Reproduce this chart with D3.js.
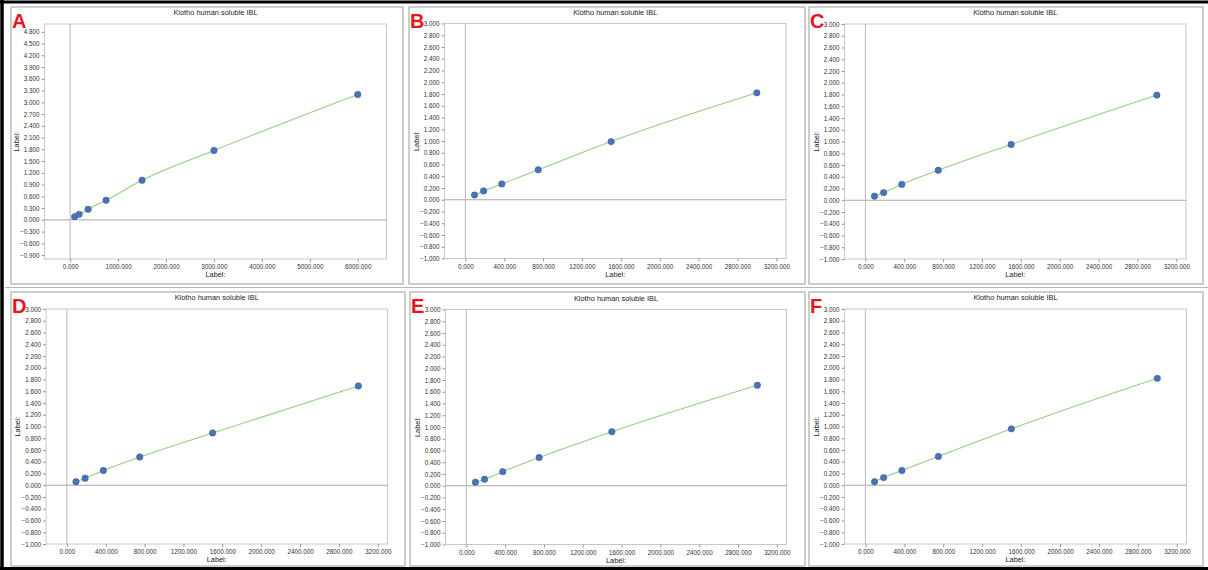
<!DOCTYPE html>
<html>
<head>
<meta charset="utf-8">
<script src="https://cdn.jsdelivr.net/npm/d3@7"></script>
<style>
  html, body { margin: 0; padding: 0; background: #fff; }
  svg { display: block; font-family: "Liberation Sans", Arial, sans-serif; }
</style>
</head>
<body>
<svg id="chart" width="1208" height="570"></svg>
<script>
// Standard concentrations (pg/mL) and measured OD for each run
const concA = [93.75, 187.5, 375, 750, 1500, 3000, 6000];
const concBF = [93.75, 187.5, 375, 750, 1500, 3000];

const odA = [0.08, 0.14, 0.27, 0.50, 1.01, 1.77, 3.20];
const odB = [0.08, 0.15, 0.27, 0.51, 0.99, 1.82];
const odC = [0.07, 0.13, 0.27, 0.51, 0.95, 1.79];
const odD = [0.06, 0.12, 0.25, 0.48, 0.89, 1.69];
const odE = [0.06, 0.11, 0.24, 0.48, 0.92, 1.71];
const odF = [0.06, 0.13, 0.25, 0.49, 0.96, 1.82];

// Tick values
const xTicksA = [0, 1000, 2000, 3000, 4000, 5000, 6000];
const xTicksBF = [0, 400, 800, 1200, 1600, 2000, 2400, 2800, 3200];
const yTicksA = [-0.9, -0.6, -0.3, 0, 0.3, 0.6, 0.9, 1.2, 1.5, 1.8, 2.1, 2.4, 2.7, 3.0, 3.3, 3.6, 3.9, 4.2, 4.5, 4.8];
const yTicksBF = [-1.0, -0.8, -0.6, -0.4, -0.2, 0, 0.2, 0.4, 0.6, 0.8, 1.0, 1.2, 1.4, 1.6, 1.8, 2.0, 2.2, 2.4, 2.6, 2.8, 3.0];

const panelLetters = ["A", "B", "C", "D", "E", "F"];
const chartTitle = "Klotho human soluble IBL";
const axisTitle = "Label:";

const svg = d3.select("#chart");

// Panel layout: outer box and inner plot frame
const panels = [
  { letter: "A", box: [11, 7, 403, 284], frame: [44.5, 24, 386.5, 259], conc: concA, od: odA, xDom: [-535, 6600], yDom: [-1, 5], xt: xTicksA, yt: yTicksA },
  { letter: "B", box: [409, 7, 805, 284], frame: [444.5, 23.5, 786, 258.5], conc: concBF, od: odB, xDom: [-215, 3300], yDom: [-1, 3], xt: xTicksBF, yt: yTicksBF },
  { letter: "C", box: [809, 7, 1203, 284], frame: [844.5, 24, 1186, 259], conc: concBF, od: odC, xDom: [-215, 3300], yDom: [-1, 3], xt: xTicksBF, yt: yTicksBF },
  { letter: "D", box: [11, 292, 405, 566], frame: [46, 309, 387.5, 544], conc: concBF, od: odD, xDom: [-215, 3300], yDom: [-1, 3], xt: xTicksBF, yt: yTicksBF },
  { letter: "E", box: [410, 292, 805, 566], frame: [445.5, 309.5, 786.5, 544.5], conc: concBF, od: odE, xDom: [-215, 3300], yDom: [-1, 3], xt: xTicksBF, yt: yTicksBF },
  { letter: "F", box: [809, 292, 1203, 566], frame: [844.5, 309, 1186.5, 544], conc: concBF, od: odF, xDom: [-215, 3300], yDom: [-1, 3], xt: xTicksBF, yt: yTicksBF }
];

// Separator line between rows
svg.append("line").attr("x1", 5).attr("x2", 1208).attr("y1", 287.5).attr("y2", 287.5)
  .attr("stroke", "#b8b8b8").attr("stroke-width", 1.2);

const fmt = d3.format(".3f");

panels.forEach(p => {
  const [bx0, by0, bx1, by1] = p.box;
  const [fx0, fy0, fx1, fy1] = p.frame;
  const g = svg.append("g");

  g.append("rect").attr("x", bx0).attr("y", by0).attr("width", bx1 - bx0).attr("height", by1 - by0)
    .attr("fill", "#fff").attr("stroke", "#bdbdbd").attr("stroke-width", 1.5);

  const x = d3.scaleLinear().domain(p.xDom).range([fx0, fx1]);
  const y = d3.scaleLinear().domain(p.yDom).range([fy1, fy0]);

  // plot frame
  g.append("rect").attr("x", fx0).attr("y", fy0).attr("width", fx1 - fx0).attr("height", fy1 - fy0)
    .attr("fill", "none").attr("stroke", "#c8c8c8").attr("stroke-width", 1);

  // zero lines
  g.append("line").attr("x1", fx0).attr("x2", fx1).attr("y1", y(0)).attr("y2", y(0))
    .attr("stroke", "#a8a8a8").attr("stroke-width", 1);
  g.append("line").attr("x1", x(0)).attr("x2", x(0)).attr("y1", fy0).attr("y2", fy1)
    .attr("stroke", "#b8b8b8").attr("stroke-width", 1);

  // axes
  const yAxis = d3.axisLeft(y).tickValues(p.yt).tickFormat(fmt).tickSize(3).tickPadding(2);
  const xAxis = d3.axisBottom(x).tickValues(p.xt).tickFormat(fmt).tickSize(3).tickPadding(3);

  const ya = g.append("g").attr("transform", `translate(${fx0},0)`).call(yAxis);
  const xa = g.append("g").attr("transform", `translate(0,${fy1})`).call(xAxis);
  [ya, xa].forEach(a => {
    a.select(".domain").remove();
    a.selectAll(".tick line").attr("stroke", "#999");
    a.selectAll(".tick text").attr("fill", "#333").style("font-size", "6.3px")
      .style("font-family", "'Liberation Sans', Arial, sans-serif");
  });

  // title
  g.append("text").attr("x", (fx0 + fx1) / 2).attr("y", fy0 - 9)
    .attr("text-anchor", "middle").attr("fill", "#222").style("font-size", "7.4px")
    .text(chartTitle);

  // axis titles
  g.append("text").attr("x", (fx0 + fx1) / 2).attr("y", fy1 + 18)
    .attr("text-anchor", "middle").attr("fill", "#222").style("font-size", "7.4px")
    .text(axisTitle);
  g.append("text")
    .attr("transform", `translate(${fx0 - 26},${(fy0 + fy1) / 2}) rotate(-90)`)
    .attr("text-anchor", "middle").attr("fill", "#222").style("font-size", "7.4px")
    .text(axisTitle);

  // fitted standard curve
  const pts = p.conc.map((c, i) => [c, p.od[i]]);
  const line = d3.line().x(d => x(d[0])).y(d => y(d[1])).curve(d3.curveMonotoneX);
  g.append("path").datum(pts).attr("d", line)
    .attr("fill", "none").attr("stroke", "#93d07f").attr("stroke-width", 1.1);

  // standards
  g.selectAll("circle.pt").data(pts).enter().append("circle")
    .attr("class", "pt")
    .attr("cx", d => x(d[0])).attr("cy", d => y(d[1])).attr("r", 3.2)
    .attr("fill", "#4a73b5").attr("stroke", "#3a5f9a").attr("stroke-width", 0.6);

  // panel letter
  g.append("text").attr("x", bx0 + 1).attr("y", by0 + 21)
    .attr("fill", "#e5161e").style("font-size", "20px").style("font-weight", "bold")
    .style("font-family", "'Liberation Sans', Arial, sans-serif")
    .text(p.letter);
});

// outer black border (top, left, bottom)
svg.append("line").attr("x1", 0).attr("x2", 1208).attr("y1", 2).attr("y2", 2).attr("stroke", "#000").attr("stroke-width", 3);
svg.append("line").attr("x1", 2).attr("x2", 2).attr("y1", 0).attr("y2", 570).attr("stroke", "#000").attr("stroke-width", 3.5);
svg.append("line").attr("x1", 0).attr("x2", 1208).attr("y1", 568.5).attr("y2", 568.5).attr("stroke", "#000").attr("stroke-width", 3);
</script>
</body>
</html>
